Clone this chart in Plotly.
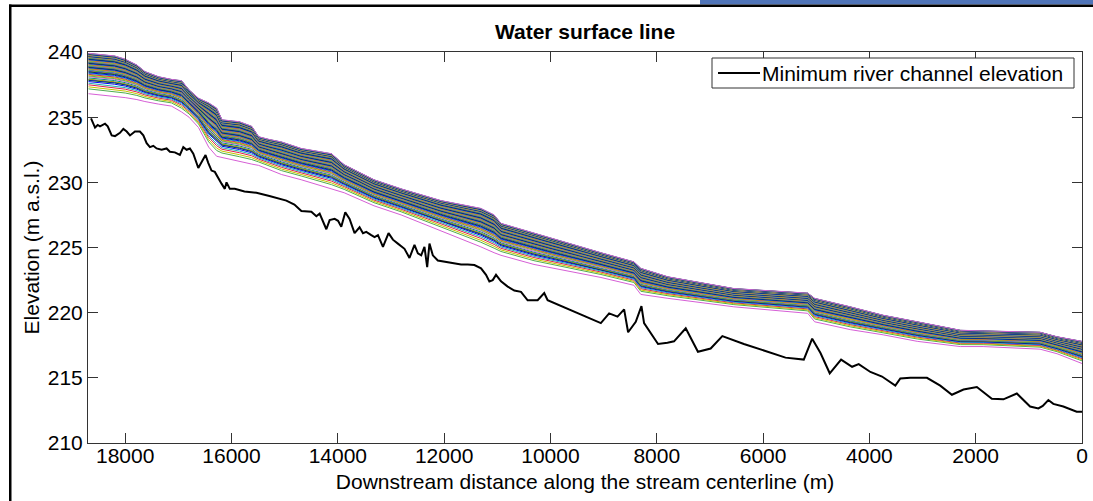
import plotly.graph_objects as go

# ---------------- data ----------------
# Minimum river channel elevation (black line)
bed_dist = [18643, 18568, 18517, 18474, 18380, 18329, 18254, 18192, 18098, 18035,
            17972, 17910, 17817, 17723, 17659, 17597, 17535, 17471, 17409, 17315,
            17221, 17159, 17066, 16971, 16907, 16845, 16783, 16719, 16625, 16564,
            16489, 16438, 16376, 16314, 16250, 16188, 16126, 16094, 16032, 15938,
            15756, 15531, 15287, 14968, 14817, 14686, 14498, 14404, 14342, 14216,
            14154, 14060, 13996, 13935, 13860, 13779, 13685, 13591, 13527, 13465,
            13371, 13309, 13245, 13151, 13046, 12964, 12870, 12746, 12652, 12558,
            12494, 12432, 12370, 12319, 12276, 12213, 12119, 11995, 11869, 11681,
            11555, 11431, 11306, 11212, 11149, 11086, 11024, 10930, 10804, 10680,
            10554, 10429, 10241, 10117, 10053, 9709, 9371, 9052, 8896, 8738,
            8614, 8539, 8395, 8288, 8239, 8113, 7976, 7799, 7675, 7455,
            7225, 6986, 6766, 6361, 6109, 5578, 5234, 5076, 4920, 4746,
            4532, 4325, 4201, 3981, 3762, 3512, 3418, 3230, 2917, 2667,
            2447, 2229, 1978, 1696, 1478, 1226, 977, 821, 738, 633,
            539, 351, 100, 0]
bed_elev = [234.9, 234.2, 234.4, 234.3, 234.5, 234.3, 233.6, 233.55, 233.8, 234.1,
            233.9, 233.6, 233.9, 233.9, 233.6, 233.0, 232.7, 232.8, 232.6, 232.5,
            232.6, 232.35, 232.3, 232.1, 232.7, 232.5, 232.6, 232.2, 231.1, 231.6,
            232.1, 231.5, 230.9, 230.8, 230.3, 229.9, 229.5, 230.0, 229.5, 229.5,
            229.3, 229.2, 228.95, 228.6, 228.3, 227.8, 227.75, 227.4, 227.6, 226.4,
            227.1, 227.2, 227.05, 226.6, 227.7, 227.2, 226.1, 226.55, 226.1, 226.2,
            225.95, 225.8, 225.95, 225.05, 226.1, 225.6, 225.3, 224.9, 224.2, 225.2,
            224.55, 224.4, 225.05, 223.5, 225.3, 224.4, 224.0, 223.9, 223.8, 223.7,
            223.7, 223.65, 223.4, 222.9, 222.4, 222.5, 222.9, 222.4, 222.0, 221.7,
            221.6, 220.95, 220.95, 221.5, 220.95, 220.35, 219.7, 219.2, 219.95, 219.7,
            220.25, 218.5, 219.3, 220.5, 219.2, 218.4, 217.6, 217.7, 217.8, 218.8,
            217.0, 217.25, 218.2, 217.6, 217.25, 216.55, 216.4, 218.0, 216.9, 215.35,
            216.4, 215.85, 216.05, 215.45, 215.1, 214.4, 214.95, 215.0, 215.0, 214.4,
            213.7, 214.1, 214.3, 213.4, 213.35, 213.8, 212.8, 212.65, 212.85, 213.3,
            213.0, 212.8, 212.4, 212.4]

# Water surface profiles: stations, lowest and highest computed profile
ws_dist = [18690, 18200, 18000, 17780, 17630, 17370, 17130, 16940, 16800, 16620,
           16430, 16280, 16180, 15850, 15620, 15490, 15300, 15060, 14690, 14120,
           13880, 13600, 13320, 12810, 12060, 11310, 11060, 10930, 10310, 10050,
           9050, 8430, 8300, 7790, 6550, 5160, 5030, 4360, 3740, 3100,
           2290, 1860, 790, 470, 0]
ws_highest = [239.9, 239.7, 239.45, 239.0, 238.5, 238.1, 237.9, 237.8, 237.1, 236.45,
              236.1, 235.7, 234.8, 234.65, 234.3, 233.5, 233.3, 233.1, 232.6, 232.2,
              231.35, 230.8, 230.2, 229.5, 228.6, 228.0, 227.5, 226.85, 226.1, 225.8,
              224.6, 223.9, 223.4, 222.75, 221.85, 221.5, 221.1, 220.45, 219.8, 219.3,
              218.65, 218.6, 218.5, 218.15, 217.8]
ws_lowest = [236.8, 236.6, 236.5, 236.35, 236.2, 236.0, 235.85, 235.4, 235.0, 234.2,
             232.7, 232.0, 231.9, 231.6, 231.4, 231.3, 231.0, 230.6, 230.2, 229.5,
             229.2, 228.7, 228.2, 227.5, 226.3, 225.05, 224.6, 224.4, 223.7, 223.5,
             222.7, 222.1, 221.4, 221.1, 220.45, 219.95, 219.3, 218.7, 218.3, 217.8,
             217.4, 217.4, 217.2, 216.85, 216.1]
# relative position of each computed profile inside the envelope (0 = lowest, 1 = highest)
profile_levels = [0.00, 0.12, 0.17, 0.22, 0.26, 0.30, 0.33, 0.345, 0.36, 0.39,
                  0.42, 0.44, 0.46, 0.48, 0.50, 0.52, 0.54, 0.555, 0.57, 0.585,
                  0.60, 0.61, 0.62, 0.63, 0.64, 0.65, 0.66, 0.67, 0.68, 0.69,
                  0.70, 0.71, 0.72, 0.73, 0.74, 0.75, 0.76, 0.77, 0.78, 0.79,
                  0.80, 0.81, 0.82, 0.83, 0.84, 0.85, 0.86, 0.87, 0.88, 0.89,
                  0.90, 0.905, 0.91, 0.915, 0.92, 0.925, 0.93, 0.935, 0.94, 0.945,
                  0.95, 0.955, 0.96, 0.965, 0.97, 0.975, 0.98, 0.985, 0.99, 0.995, 1.00]
profile_colors = ['#d65fd6', '#4fae4f', '#c4c400', '#e0204a', '#20b0b0',
                  '#0000ff', '#006400', '#0000ee', '#a0a000', '#008b8b']

legend_label = "Minimum river channel elevation"
x_ticks = [0, 2000, 4000, 6000, 8000, 10000, 12000, 14000, 16000, 18000]
y_ticks = [210, 215, 220, 225, 230, 235, 240]

FONT = "Liberation Sans, Arial, sans-serif"

fig = go.Figure()
for i, lev in enumerate(profile_levels):
    ys = [lo + lev * (hi - lo) for lo, hi in zip(ws_lowest, ws_highest)]
    fig.add_trace(go.Scatter(x=ws_dist, y=ys, mode="lines",
                             line=dict(color=profile_colors[i % len(profile_colors)], width=1),
                             showlegend=False, hoverinfo="skip"))

fig.add_trace(go.Scatter(x=bed_dist, y=bed_elev, mode="lines",
                         line=dict(color="black", width=2),
                         name=legend_label, showlegend=False))

W, H = 1093, 501
L, R, T, B = 88, 11, 52, 58
pw, ph = W - L - R, H - T - B

def px(x):
    return (x - L) / pw

def py(y):
    return (H - B - y) / ph

shapes = [
    # page decorations (frame edges)
    dict(type="rect", xref="paper", yref="paper", x0=px(700), x1=px(1093), y0=py(4.5), y1=py(0),
         fillcolor="#4f74b8", line=dict(width=0), layer="above"),
    dict(type="rect", xref="paper", yref="paper", x0=px(9), x1=px(1093), y0=py(7), y1=py(4.5),
         fillcolor="black", line=dict(width=0), layer="above"),
    dict(type="rect", xref="paper", yref="paper", x0=px(9), x1=px(11.5), y0=py(501), y1=py(4.5),
         fillcolor="black", line=dict(width=0), layer="above"),
    # legend box and its line sample
    dict(type="rect", xref="paper", yref="paper", x0=px(712), x1=px(1074), y0=py(88), y1=py(58),
         fillcolor="white", line=dict(color="#333", width=1), layer="above"),
    dict(type="line", xref="paper", yref="paper", x0=px(718), x1=px(760), y0=py(73), y1=py(73),
         line=dict(color="black", width=2), layer="above"),
]

annotations = [
    dict(text=legend_label, xref="paper", yref="paper", x=px(760), y=py(73),
         xanchor="left", yanchor="middle", showarrow=False,
         font=dict(family=FONT, size=21, color="black")),
]

fig.update_layout(
    width=W, height=H, autosize=False,
    margin=dict(l=L, r=R, t=T, b=B),
    paper_bgcolor="white", plot_bgcolor="white",
    font=dict(family=FONT, size=21, color="black"),
    title=dict(text="<b>Water surface line</b>", x=0.5, xref="paper", xanchor="center",
               y=1 - 32 / H, yanchor="middle", yref="container",
               font=dict(family=FONT, size=21, color="black")),
    xaxis=dict(range=[18700, 0], tickvals=x_ticks, ticktext=[str(v) for v in x_ticks],
               ticks="inside", ticklen=10, tickcolor="#333", mirror="ticks",
               showline=True, linecolor="#333", linewidth=1, showgrid=False, zeroline=False,
               ticklabelstandoff=-6, automargin=False,
               title=dict(text="Downstream distance along the stream centerline (m)",
                          font=dict(size=21), standoff=8)),
    yaxis=dict(range=[210, 240], tickvals=y_ticks, ticktext=[str(v) for v in y_ticks],
               ticks="inside", ticklen=10, tickcolor="#333", mirror="ticks",
               showline=True, linecolor="#333", linewidth=1, showgrid=False, zeroline=False,
               automargin=False,
               title=dict(text="Elevation (m a.s.l.)", font=dict(size=21), standoff=2)),
    showlegend=False,
    shapes=shapes,
    annotations=annotations,
)

fig.write_html(
    "out.html",
    config={"responsive": False},
    post_script="document.documentElement.style.margin='0';document.body.style.margin='0';"
                "document.documentElement.style.overflow='hidden';document.body.style.overflow='hidden';",
)
